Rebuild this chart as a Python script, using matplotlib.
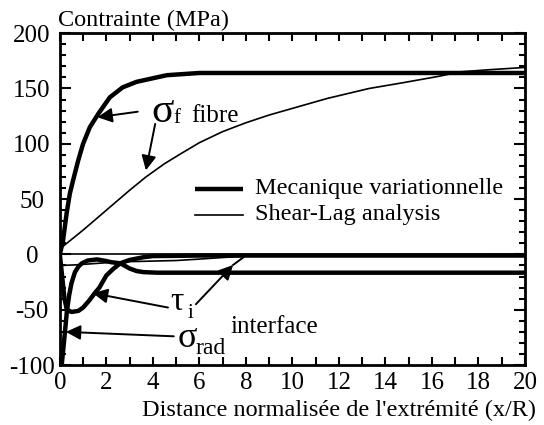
import matplotlib.pyplot as plt
from matplotlib.ticker import MultipleLocator

plt.rcParams['font.family'] = ['Liberation Serif', 'DejaVu Serif']
plt.rcParams['axes.unicode_minus'] = False

# fibre stress, variational mechanics (thick) and shear-lag (thin)
sigf_var_x = [0, 0.14, 0.29, 0.43, 0.57, 0.79, 1.0, 1.29, 1.65, 2.15, 2.7, 3.3, 4.6, 6, 10, 15, 20]
sigf_var_y = [0, 13, 37, 55, 67, 85, 100, 115, 127, 142, 151, 156, 162, 164, 164, 164, 164]
sigf_sl_x = [0, 1, 2, 3, 3.7, 4.5, 5.2, 6, 7, 8, 9, 10, 11.5, 13.3, 14.7, 16.3, 17.2, 18.5, 20]
sigf_sl_y = [5, 22, 40, 58, 70, 82, 91, 101, 111, 119, 126, 132, 141, 150, 155, 161, 165, 167, 169]

# interface shear stress
tau_var_x = [0, 0.1, 0.2, 0.3, 0.5, 0.8, 1.0, 1.25, 1.5, 1.7, 2.0, 2.3, 2.6, 3.0, 3.6, 4.0, 6, 10, 20]
tau_var_y = [0, -20, -40, -50, -52, -51, -48, -42, -35, -30, -19, -13, -8, -5, -2.5, -1.5, -1, -1, -1]
tau_sl_x = [0, 0.6, 1, 2, 3, 4, 5, 6, 7, 8, 10, 14, 20]
tau_sl_y = [-10, -9.5, -9, -7.5, -6.5, -6, -5.5, -4.2, -2.8, -1.5, -0.8, -0.3, 0]

# radial interface stress
srad_var_x = [0.08, 0.15, 0.22, 0.3, 0.4, 0.5, 0.65, 0.8, 0.95, 1.2, 1.6, 2.0, 2.2, 2.6, 3.0, 3.3, 3.6, 4.2, 6, 20]
srad_var_y = [-100, -85, -70, -52, -37, -26, -16, -11, -8, -5.5, -4.5, -6, -7, -8, -12.7, -15, -16, -16.5, -16.5, -16.5]
srad_sl_x = [0, 20]
srad_sl_y = [0, 0]

fig = plt.figure(figsize=(5.44, 4.25), dpi=100)
ax = fig.add_axes([0.110, 0.141, 0.855, 0.781])

thick = 3.2
thin = 1.2
ax.plot(sigf_var_x, sigf_var_y, color='black', lw=thick, solid_capstyle='butt')
ax.plot(tau_var_x, tau_var_y, color='black', lw=thick, solid_capstyle='butt')
ax.plot(srad_var_x, srad_var_y, color='black', lw=thick, solid_capstyle='butt')
ax.plot(sigf_sl_x, sigf_sl_y, color='black', lw=thin)
ax.plot(tau_sl_x, tau_sl_y, color='black', lw=thin)
ax.plot(srad_sl_x, srad_sl_y, color='black', lw=thin)

ax.set_xlim(0, 20)
ax.set_ylim(-100, 200)
ax.xaxis.set_major_locator(MultipleLocator(2))
ax.xaxis.set_minor_locator(MultipleLocator(1))
ax.yaxis.set_major_locator(MultipleLocator(50))
ax.yaxis.set_minor_locator(MultipleLocator(10))
ax.tick_params(which='both', direction='in', top=True, right=True, width=1.5, labelsize=18, colors='black')
ax.tick_params(axis='x', which='both', length=6, pad=5)
ax.tick_params(axis='y', which='major', length=8, pad=20)
ax.tick_params(axis='y', which='minor', length=4.5)
for lab in ax.get_yticklabels():
    lab.set_horizontalalignment('center')
for s in ax.spines.values():
    s.set_linewidth(2)

fig.text(0.107, 0.953, 'Contrainte (MPa)', fontsize=17.5, ha='left', va='center')
fig.text(0.985, 0.035, "Distance normalisée de l'extrémité (x/R)", fontsize=17.5, ha='right', va='center')

# legend drawn by hand
ax.plot([0.290, 0.394], [0.530, 0.530], color='black', lw=thick, transform=ax.transAxes, solid_capstyle='butt')
ax.plot([0.290, 0.394], [0.452, 0.452], color='black', lw=thin, transform=ax.transAxes)
ax.text(0.419, 0.533, 'Mecanique variationnelle', fontsize=17.5, transform=ax.transAxes, va='center')
ax.text(0.419, 0.455, 'Shear-Lag analysis', fontsize=17.5, transform=ax.transAxes, va='center')

arrow = dict(arrowstyle='-|>', color='black', lw=1.4, mutation_scale=22, shrinkA=0, shrinkB=0)

# fibre labels
ax.text(3.95, 129, 'σ', fontsize=30, va='center', ha='left')
ax.text(4.9, 123, 'f', fontsize=15, va='center', ha='left')
ax.text(5.65, 125, 'fibre', fontsize=18, va='center', ha='left')
ax.annotate('', xy=(1.62, 124), xytext=(3.35, 129), arrowprops=arrow)
ax.annotate('', xy=(3.7, 76), xytext=(4.1, 118), arrowprops=arrow)

# interface labels
ax.text(4.75, -43, 'τ', fontsize=24, va='center', ha='left')
ax.text(5.5, -53, 'i', fontsize=15, va='center', ha='left')
ax.annotate('', xy=(1.42, -35), xytext=(4.65, -48), arrowprops=arrow)
ax.annotate('', xy=(7.45, -9.5), xytext=(5.85, -45), arrowprops=arrow)
ax.plot([7.45, 7.9], [-9.5, -2.5], color='black', lw=1.4)

ax.text(5.05, -76, 'σ', fontsize=26, va='center', ha='left')
ax.text(5.85, -85, 'rad', fontsize=17, va='center', ha='left')
ax.text(7.35, -66, 'interface', fontsize=18, va='center', ha='left')
ax.annotate('', xy=(0.26, -70), xytext=(4.9, -74), arrowprops=arrow)

fig.savefig('out.png', dpi=100)
